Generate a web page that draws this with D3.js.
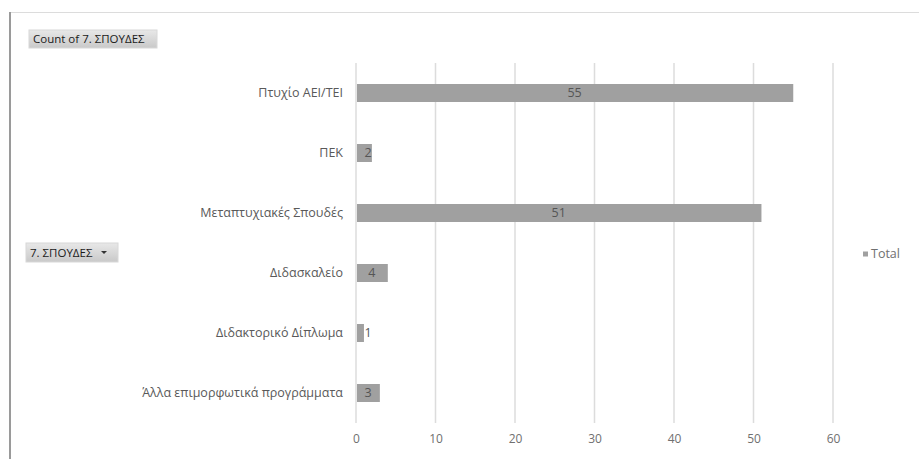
<!DOCTYPE html>
<html>
<head>
<meta charset="utf-8">
<script src="https://cdn.jsdelivr.net/npm/d3@7"></script>
<style>
  html, body { margin: 0; padding: 0; background: #fff; }
  svg { display: block; }
  text { font-family: "Open Sans", "Lato", sans-serif; }
</style>
</head>
<body>
<svg id="chart" width="919" height="459"></svg>
<script>
const categories = [
  "Πτυχίο ΑΕΙ/ΤΕΙ",
  "ΠΕΚ",
  "Μεταπτυχιακές Σπουδές",
  "Διδασκαλείο",
  "Διδακτορικό Δίπλωμα",
  "Άλλα επιμορφωτικά προγράμματα"
];
const totals = [55, 2, 51, 4, 1, 3];
const xTicks = [0, 10, 20, 30, 40, 50, 60];
const seriesName = "Total";
const valueButton = "Count of 7. ΣΠΟΥΔΕΣ";
const fieldButton = "7. ΣΠΟΥΔΕΣ";

const svg = d3.select("#chart");
const defs = svg.append("defs");

// soft shadow along the left side of the chart frame
const sh = defs.append("filter").attr("id", "frameShadow")
  .attr("x", "-5%").attr("y", "-5%").attr("width", "110%").attr("height", "110%");
sh.append("feGaussianBlur").attr("stdDeviation", 1.5);

// button gradient
const grad = defs.append("linearGradient").attr("id", "btnGrad")
  .attr("x1", 0).attr("y1", 0).attr("x2", 0).attr("y2", 1);
grad.append("stop").attr("offset", "0%").attr("stop-color", "#e8e8e8");
grad.append("stop").attr("offset", "100%").attr("stop-color", "#c9c9c9");

// chart frame
svg.append("line").attr("x1", 8).attr("x2", 8).attr("y1", 12).attr("y2", 459)
  .attr("stroke", "#bbb").attr("stroke-width", 4).attr("filter", "url(#frameShadow)");
svg.append("line").attr("x1", 10).attr("x2", 919).attr("y1", 12.5).attr("y2", 12.5)
  .attr("stroke", "#dcdcdc").attr("stroke-width", 1);
svg.append("line").attr("x1", 10).attr("x2", 10).attr("y1", 12).attr("y2", 459)
  .attr("stroke", "#9a9a9a").attr("stroke-width", 2);

const margin = { left: 356, top: 63 };

const x = d3.scaleLinear().domain([0, 60]).range([margin.left, margin.left + 477]);
const y = d3.scaleBand().domain(categories)
  .range([margin.top, margin.top + 360]).paddingInner(0.7).paddingOuter(0.35);

// vertical gridlines
svg.append("g").selectAll("line").data(xTicks).join("line")
  .attr("x1", d => x(d)).attr("x2", d => x(d))
  .attr("y1", margin.top).attr("y2", margin.top + 360)
  .attr("stroke", "#dcdcdc").attr("stroke-width", 1.5);

// x axis labels
const xAxis = d3.axisBottom(x).tickValues(xTicks).tickSize(0).tickPadding(11);
const gx = svg.append("g").attr("transform", `translate(0,${margin.top + 360})`).call(xAxis);
gx.select(".domain").remove();
gx.selectAll("text").attr("fill", "#707070").attr("font-size", 12)
  .attr("font-family", "'Open Sans', sans-serif");

// y axis labels
const yAxis = d3.axisLeft(y).tickSize(0).tickPadding(13);
const gy = svg.append("g").attr("transform", `translate(${x(0)},0)`).call(yAxis);
gy.select(".domain").remove();
gy.selectAll("text").attr("fill", "#595959").attr("font-size", 12.5)
  .attr("font-family", "'Open Sans', sans-serif");

// bars
const data = categories.map((c, i) => ({ c, v: totals[i] }));
svg.append("g").selectAll("rect").data(data).join("rect")
  .attr("x", x(0) + 1)
  .attr("y", d => y(d.c))
  .attr("width", d => x(d.v) - x(0) - 1)
  .attr("height", y.bandwidth())
  .attr("fill", "#a0a0a0");

// value labels
svg.append("g").selectAll("text").data(data).join("text")
  .attr("x", d => Math.max((x(0) + x(d.v)) / 2, x(0) + 12))
  .attr("y", d => y(d.c) + y.bandwidth() / 2)
  .attr("dy", "0.35em")
  .attr("text-anchor", "middle")
  .attr("font-size", 12.5)
  .attr("fill", "#555")
  .text(d => d.v);

// legend
const lg = svg.append("g").attr("transform", "translate(866,254)");
lg.append("rect").attr("x", -3).attr("y", -2.5).attr("width", 5).attr("height", 5).attr("fill", "#a0a0a0");
lg.append("text").attr("x", 5).attr("dy", "0.35em").attr("font-size", 12.5)
  .attr("fill", "#707070").text(seriesName);

// pivot field buttons
function button(bx, by, bw, bh, label, arrow) {
  const g = svg.append("g").attr("transform", `translate(${bx},${by})`);
  g.append("rect").attr("width", bw).attr("height", bh)
    .attr("fill", "url(#btnGrad)").attr("stroke", "#d8d8d8");
  g.append("text").attr("x", 4).attr("y", bh / 2).attr("dy", "0.35em")
    .attr("font-family", "'Liberation Sans', Arial, sans-serif")
    .attr("font-size", 11.5).attr("fill", "#1a1a1a").text(label);
  if (arrow) {
    g.append("path").attr("d", `M${bw - 17},${bh / 2 - 1.5} l6,0 l-3,3 z`).attr("fill", "#333");
  }
}
button(29, 30, 128, 18, valueButton, false);
button(26, 243, 92, 19, fieldButton, true);
</script>
</body>
</html>
